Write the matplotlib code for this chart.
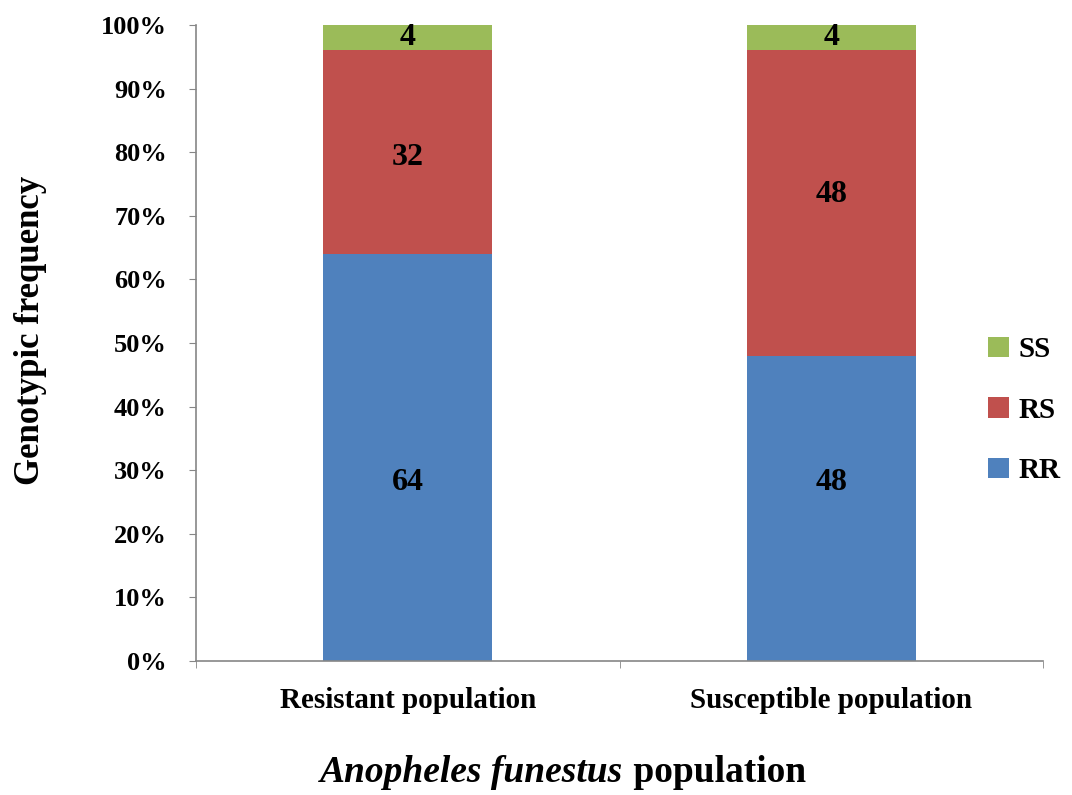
import numpy as np
import matplotlib.pyplot as plt
from matplotlib.ticker import PercentFormatter

populations = ["Resistant population", "Susceptible population"]
genotypes = ["RR", "RS", "SS"]
rr_values = [64, 48]
rs_values = [32, 48]
ss_values = [4, 4]
colors = {"RR": "#4F81BD", "RS": "#C0504D", "SS": "#9BBB59"}

# where the value labels sit in the original (placed by hand, not centred)
label_y = {"RR": [28, 28], "RS": [79.2, 73.3], "SS": [98.1, 98.1]}

plt.rcParams["font.family"] = ["Liberation Serif", "DejaVu Serif"]
plt.rcParams["font.weight"] = "bold"

W, H = 1072, 795
fig = plt.figure(figsize=(W / 100, H / 100), dpi=100)
ax = fig.add_axes([196 / W, 1 - 661 / H, (1043 - 196) / W, (661 - 25) / H])

x = np.arange(len(populations))
series = {"RR": rr_values, "RS": rs_values, "SS": ss_values}
bottom = np.zeros(len(populations))
handles = {}
for g in genotypes:
    vals = np.array(series[g], dtype=float)
    bars = ax.bar(x, vals, width=0.4, bottom=bottom, color=colors[g], label=g)
    handles[g] = bars
    for xi, ly, v in zip(x, label_y[g], vals):
        ax.text(xi, ly, f"{int(v)}", ha="center", va="center",
                fontsize=23, fontweight="bold", color="black")
    bottom += vals

ax.set_xlim(-0.5, 1.5)
ax.set_ylim(0, 100)
ax.set_yticks(np.arange(0, 101, 10))
ax.yaxis.set_major_formatter(PercentFormatter(decimals=0))
ax.set_xticks(x)
ax.set_xticklabels(populations, fontsize=21, fontweight="bold")
ax.set_xticks([-0.5, 0.5, 1.5], minor=True)
ax.tick_params(axis="x", which="major", length=0, pad=19)
ax.tick_params(axis="x", which="minor", length=5, color="#868686")
ax.tick_params(axis="y", length=5, color="#868686", labelsize=19, pad=16)
for lbl in ax.get_yticklabels():
    lbl.set_fontweight("bold")

for s in ["top", "right"]:
    ax.spines[s].set_visible(False)
for s in ["left", "bottom"]:
    ax.spines[s].set_color("#868686")
    ax.spines[s].set_linewidth(1.2)

fig.text(31 / W, 1 - 330 / H, "Genotypic frequency", rotation=90,
         ha="center", va="center", fontsize=25, fontweight="bold")

# x title: italic species name followed by upright word
t1 = fig.text(0, 0, "Anopheles funestus", fontsize=27, fontweight="bold",
              style="italic", va="center")
t2 = fig.text(0, 0, " population", fontsize=27, fontweight="bold", va="center")
fig.canvas.draw()
r = fig.canvas.get_renderer()
w1 = t1.get_window_extent(r).width
w2 = t2.get_window_extent(r).width
x0 = 563 - (w1 + w2) / 2
yy = (H - 773) / H
t1.set_position((x0 / W, yy))
t2.set_position(((x0 + w1) / W, yy))

ax.legend([handles["SS"], handles["RS"], handles["RR"]], ["SS", "RS", "RR"],
          loc="center left", bbox_to_anchor=(962 / W, 1 - 410 / H),
          bbox_transform=fig.transFigure, frameon=False,
          prop={"size": 21, "weight": "bold"}, handlelength=0.7,
          handleheight=0.7, handletextpad=0.35, labelspacing=1.15)

fig.savefig("out.png", dpi=100)
